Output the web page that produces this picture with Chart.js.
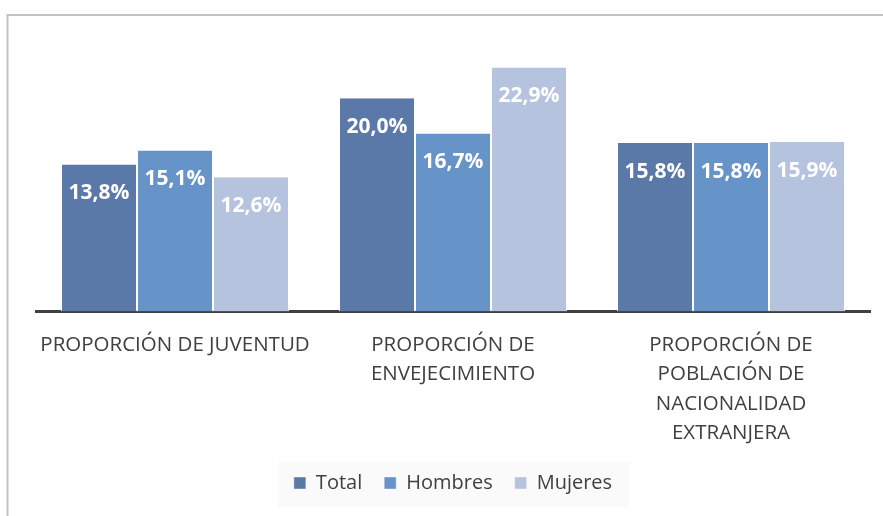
<!DOCTYPE html>
<html>
<head>
<meta charset="utf-8">
<script src="https://cdn.jsdelivr.net/npm/chart.js@4/dist/chart.umd.min.js"></script>
<style>
  html, body { margin: 0; padding: 0; background: #fff; overflow: hidden; }
  #wrap { position: relative; width: 883px; height: 516px; }
</style>
</head>
<body>
<div id="wrap"><canvas id="chart" width="883" height="516"></canvas></div>
<script>
const categories = [
  ['PROPORCIÓN DE JUVENTUD'],
  ['PROPORCIÓN DE', 'ENVEJECIMIENTO'],
  ['PROPORCIÓN DE', 'POBLACIÓN DE', 'NACIONALIDAD', 'EXTRANJERA']
];
const seriesNames = ['Total', 'Hombres', 'Mujeres'];
const totalValues = [13.8, 20.0, 15.8];
const hombresValues = [15.1, 16.7, 15.8];
const mujeresValues = [12.6, 22.9, 15.9];
const seriesColors = ['#5a79a8', '#6693c8', '#b5c3de'];

// frame lines round the chart (left + top only are visible)
const frame = {
  id: 'frame',
  beforeDraw(chart) {
    const ctx = chart.ctx;
    ctx.save();
    ctx.strokeStyle = '#c2c2c2';
    ctx.lineWidth = 2;
    ctx.beginPath();
    ctx.moveTo(7.5, 520);
    ctx.lineTo(7.5, 15);
    ctx.lineTo(890, 15);
    ctx.stroke();
    // faint panel behind the legend
    const lg = chart.legend;
    if (lg && lg.legendHitBoxes && lg.legendHitBoxes.length) {
      const boxes = lg.legendHitBoxes;
      const l = Math.min(...boxes.map(b => b.left)) - 16;
      const r = Math.max(...boxes.map(b => b.left + b.width)) + 18;
      ctx.fillStyle = '#fafafa';
      ctx.fillRect(l, lg.top + 11, r - l, 45);
    }
    ctx.restore();
  }
};

// value labels inside the top of each bar
const barLabels = {
  id: 'barLabels',
  afterDatasetsDraw(chart) {
    const ctx = chart.ctx;
    ctx.save();
    ctx.font = 'bold 21px "Open Sans"';
    ctx.fillStyle = '#ffffff';
    ctx.textAlign = 'center';
    ctx.textBaseline = 'alphabetic';
    chart.data.datasets.forEach((ds, i) => {
      chart.getDatasetMeta(i).data.forEach((bar, j) => {
        const txt = ds.data[j].toFixed(1).replace('.', ',') + '%';
        ctx.fillText(txt, bar.x, bar.y + 34.5);
      });
    });
    ctx.restore();
  }
};

function draw() {
  Chart.defaults.font.family = '"Open Sans", sans-serif';
  Chart.defaults.color = '#404040';

  const data = {
    labels: categories,
    datasets: [totalValues, hombresValues, mujeresValues].map((vals, i) => ({
      label: seriesNames[i],
      data: vals,
      backgroundColor: seriesColors[i],
      borderColor: 'rgba(255,255,255,0.85)',
      borderWidth: { left: 1, right: 1, top: 0, bottom: 0 },
      borderSkipped: false,
      categoryPercentage: 0.82,
      barPercentage: 1
    }))
  };

  new Chart(document.getElementById('chart'), {
    type: 'bar',
    data: data,
    options: {
      responsive: false,
      animation: false,
      layout: { padding: { left: 36, right: 13, top: 45, bottom: 13 } },
      plugins: {
        legend: {
          display: true,
          position: 'bottom',
          labels: {
            boxWidth: 12,
            boxHeight: 12,
            padding: 22,
            color: '#404040',
            font: { size: 20 }
          }
        },
        tooltip: { enabled: false }
      },
      scales: {
        x: {
          z: 1,
          grid: { display: false, drawTicks: false },
          border: { display: true, color: '#404040', width: 3 },
          ticks: {
            autoSkip: false,
            maxRotation: 0,
            minRotation: 0,
            padding: 18.5,
            color: '#404040',
            font: { size: 20.5, lineHeight: 1.44 }
          },
          afterFit(scale) { scale.height = 139.5; }
        },
        y: {
          display: false,
          min: 0,
          max: 25
        }
      }
    },
    plugins: [frame, barLabels]
  });
}

if (document.fonts && document.fonts.load) {
  Promise.all([
    document.fonts.load('20px "Open Sans"'),
    document.fonts.load('bold 20px "Open Sans"')
  ]).then(draw, draw);
} else {
  draw();
}
</script>
</body>
</html>
